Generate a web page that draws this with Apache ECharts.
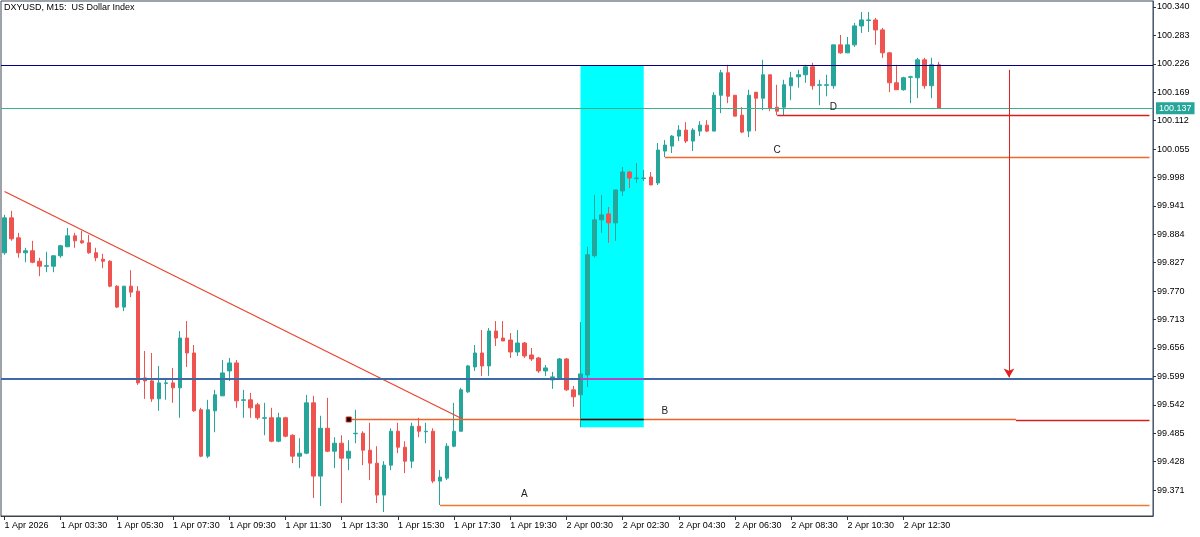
<!DOCTYPE html>
<html><head><meta charset="utf-8">
<script src="https://cdn.jsdelivr.net/npm/echarts@6/dist/echarts.min.js"></script>
<style>html,body{margin:0;padding:0;background:#fff}#chart{width:1200px;height:537px}</style>
</head><body><div id="chart"></div>
<script>
// ---- data (DXYUSD M15) ----
const tickLabels = ["1 Apr 2026","1 Apr 03:30","1 Apr 05:30","1 Apr 07:30","1 Apr 09:30","1 Apr 11:30","1 Apr 13:30","1 Apr 15:30","1 Apr 17:30","1 Apr 19:30","2 Apr 00:30","2 Apr 02:30","2 Apr 04:30","2 Apr 06:30","2 Apr 08:30","2 Apr 10:30","2 Apr 12:30"];
const yTicks = [99.371,99.428,99.485,99.542,99.599,99.656,99.713,99.770,99.827,99.884,99.941,99.998,100.055,100.112,100.169,100.226,100.283,100.340];

const opens = [99.847,99.917,99.877,99.847,99.851,99.830,99.820,99.820,99.841,99.859,99.881,99.871,99.867,99.847,99.834,99.830,99.780,99.738,99.780,99.770,
99.596,99.590,99.554,99.585,99.586,99.576,99.676,99.646,99.532,99.439,99.530,99.560,99.610,99.626,99.551,99.552,99.542,99.515,99.516,99.469,
99.516,99.481,99.439,99.445,99.546,99.399,99.495,99.449,99.465,99.435,99.484,99.485,99.451,99.425,99.361,99.421,99.489,99.457,99.429,99.499,
99.488,99.489,99.389,99.395,99.459,99.489,99.568,99.618,99.646,99.620,99.690,99.676,99.672,99.648,99.666,99.642,99.636,99.610,99.592,99.596,
99.634,99.572,99.562,99.602,99.841,99.913,99.925,99.907,99.971,100.009,99.996,99.996,99.999,99.987,100.051,100.061,100.081,100.093,100.071,100.091,
100.103,100.091,100.163,100.208,100.163,100.123,100.091,100.169,100.157,100.204,100.139,100.139,100.182,100.200,100.204,100.220,100.183,100.183,100.182,100.264,
100.248,100.264,100.302,100.313,100.314,100.294,100.248,100.188,100.174,100.199,100.198,100.234,100.182,100.224];
const closes = [99.917,99.875,99.847,99.851,99.828,99.820,99.821,99.841,99.861,99.881,99.871,99.867,99.847,99.837,99.830,99.780,99.738,99.780,99.768,99.586,
99.590,99.554,99.586,99.586,99.576,99.676,99.646,99.530,99.439,99.532,99.562,99.606,99.626,99.550,99.552,99.536,99.516,99.516,99.469,99.516,
99.479,99.439,99.445,99.546,99.399,99.495,99.449,99.465,99.435,99.449,99.485,99.451,99.425,99.361,99.421,99.489,99.457,99.429,99.499,99.489,
99.489,99.389,99.397,99.459,99.489,99.572,99.620,99.646,99.620,99.690,99.676,99.670,99.648,99.666,99.640,99.634,99.610,99.616,99.598,99.634,
99.572,99.558,99.604,99.843,99.913,99.923,99.907,99.973,100.009,99.997,99.997,99.997,99.983,100.053,100.063,100.081,100.093,100.071,100.093,100.103,
100.091,100.163,100.208,100.161,100.121,100.089,100.163,100.157,100.204,100.137,100.131,100.184,100.198,100.204,100.220,100.182,100.184,100.184,100.264,100.248,
100.264,100.302,100.314,100.314,100.294,100.248,100.188,100.174,100.198,100.200,100.234,100.182,100.224,100.137];
const lows = [99.843,99.871,99.837,99.828,99.826,99.800,99.808,99.808,99.837,99.859,99.857,99.865,99.845,99.830,99.816,99.778,99.736,99.730,99.758,99.582,
99.554,99.548,99.530,99.552,99.546,99.516,99.618,99.528,99.437,99.435,99.487,99.560,99.590,99.536,99.516,99.516,99.512,99.481,99.467,99.467,
99.477,99.425,99.415,99.443,99.355,99.339,99.447,99.415,99.345,99.411,99.465,99.421,99.391,99.345,99.327,99.411,99.445,99.405,99.415,99.477,
99.465,99.385,99.341,99.391,99.457,99.489,99.566,99.610,99.600,99.600,99.660,99.670,99.636,99.640,99.636,99.630,99.606,99.600,99.574,99.592,
99.570,99.538,99.497,99.578,99.837,99.887,99.867,99.871,99.961,99.977,99.987,99.991,99.983,99.983,100.039,100.047,100.071,100.067,100.051,100.081,
100.089,100.091,100.127,100.147,100.121,100.087,100.079,100.091,100.133,100.131,100.123,100.123,100.153,100.178,100.188,100.174,100.143,100.161,100.176,100.246,
100.248,100.260,100.288,100.290,100.264,100.238,100.169,100.174,100.172,100.147,100.157,100.176,100.157,100.137];
const highs = [99.923,99.931,99.887,99.857,99.871,99.837,99.849,99.841,99.863,99.897,99.887,99.891,99.883,99.857,99.845,99.832,99.782,99.780,99.812,99.780,
99.650,99.646,99.620,99.596,99.616,99.690,99.710,99.662,99.536,99.552,99.572,99.632,99.636,99.632,99.572,99.566,99.546,99.546,99.536,99.526,
99.518,99.483,99.475,99.562,99.560,99.520,99.556,99.477,99.481,99.471,99.532,99.489,99.506,99.459,99.429,99.495,99.506,99.469,99.506,99.516,
99.506,99.495,99.411,99.465,99.546,99.576,99.622,99.662,99.692,99.696,99.710,99.710,99.686,99.692,99.668,99.656,99.638,99.622,99.608,99.636,
99.636,99.580,99.708,99.859,99.963,99.963,99.939,99.973,100.019,100.011,100.027,100.013,100.009,100.067,100.073,100.083,100.103,100.109,100.097,100.111,
100.113,100.169,100.214,100.224,100.163,100.139,100.174,100.169,100.234,100.204,100.184,100.194,100.210,100.214,100.224,100.228,100.194,100.204,100.264,100.284,
100.280,100.308,100.330,100.330,100.318,100.298,100.250,100.224,100.200,100.202,100.238,100.238,100.238,100.230];

// drawn objects (bar index / price)
const resistanceLevel = 100.2226;
const lastPrice = 100.137;
const supportLevel = 99.5938;
const levelA = { from: 62, value: 99.3401 };
const levelB = { from: 49, split: 144, value: 99.5126, value2: 99.5106 };
const levelC = { from: 94, value: 100.0381 };
const levelD = { from: 110, value: 100.1223 };
const trendLine = [[0, 99.970], [65, 99.515]];
const zone = [[82, 100.222], [91, 99.497]];
const arrow = [[143, 100.214], [143, 99.597]];
const textMarks = [["A", 74, 99.363], ["B", 94, 99.530], ["C", 110, 100.053], ["D", 118, 100.139]];
const blankSlots = 30;

// ---- time categories: 1 Apr from 01:30, 2 Apr from 00:30 (15-minute bars) ----
const day1Bars = 80;
function hhmm(min){const h=Math.floor(min/60),m=min%60;return (h<10?'0':'')+h+':'+(m<10?'0':'')+m;}
const categories = opens.map((_, i) => i < day1Bars ? '1 Apr ' + hhmm(90 + 15 * i) : '2 Apr ' + hhmm(30 + 15 * (i - day1Bars)));
const axisCats = categories.concat(Array.from({length: blankSlots}, () => ''));
const lastSlot = axisCats.length - 1;

const candles = opens.map((o, i) => [o, closes[i], lows[i], highs[i]]);

function segment(p0, p1, color, width, z) {
  return { type: 'line', data: [p0, p1], symbol: 'none', showSymbol: false, silent: true, z: z || 4,
    lineStyle: { color: color, width: width, type: 'solid', opacity: 1 }, itemStyle: { color: color },
    emphasis: { disabled: true }, tooltip: { show: false } };
}

const FONT = 'Liberation Sans';
const chart = echarts.init(document.getElementById('chart'), null, {renderer: 'canvas'});
chart.setOption({
  animation: false,
  backgroundColor: '#ffffff',
  textStyle: { fontFamily: FONT },
  title: { text: 'DXYUSD, M15:  US Dollar Index', left: 4, top: 3, padding: 0,
    textStyle: { fontSize: 9, fontWeight: 'normal', color: '#000', fontFamily: FONT } },
  grid: { left: 1, right: 47, top: 1, bottom: 21, show: true, borderColor: '#3c4452', borderWidth: 1,
    backgroundColor: '#fff', outerBoundsMode: 'none' },
  xAxis: {
    type: 'category', data: axisCats, boundaryGap: true,
    axisLine: { show: true, lineStyle: { color: '#3c4452', width: 1 } },
    axisTick: { show: true, alignWithLabel: true, length: 4,
      interval: (idx, val) => idx % 8 === 0 && val !== '', lineStyle: { color: '#333' } },
    axisLabel: { interval: 0, align: 'left', margin: 5, color: '#000', fontSize: 9, fontFamily: FONT,
      formatter: (v, idx) => (idx % 8 === 0 && tickLabels[idx / 8]) ? tickLabels[idx / 8] : '' },
    splitLine: { show: false }
  },
  yAxis: {
    type: 'value', position: 'right', min: 99.319, max: 100.352, scale: true,
    axisLine: { show: true, lineStyle: { color: '#4a5a78', width: 1 } },
    axisTick: { show: true, inside: false, length: 3, customValues: yTicks, lineStyle: { color: '#333' } },
    axisLabel: { show: true, customValues: yTicks, margin: 4, color: '#000', fontSize: 9, fontFamily: FONT,
      formatter: v => v.toFixed(3) },
    splitLine: { show: false }
  },
  series: [{
    type: 'candlestick',
    data: candles,
    barWidth: 4,
    z: 2,
    itemStyle: { color: '#26a69a', color0: '#ef5350', borderColor: '#26a69a', borderColor0: '#ef5350', borderWidth: 1 },
    markArea: {
      silent: true,
      itemStyle: { color: '#00ffff', opacity: 1 },
      data: [[{ coord: zone[0] }, { coord: zone[1] }]]
    },
    markPoint: {
      silent: true,
      data: [
        { coord: [levelB.from, levelB.value], symbol: 'rect', symbolSize: 5,
          itemStyle: { color: '#000', borderColor: '#e03020', borderWidth: 1 }, label: { show: false } }
      ].concat(textMarks.map(t => ({
        coord: [t[1], t[2]], symbol: 'circle', symbolSize: 1, itemStyle: { color: 'rgba(0,0,0,0)' },
        label: { show: true, position: 'inside', formatter: t[0], color: '#222', fontSize: 10, fontFamily: FONT }
      })))
    },
    markLine: {
      silent: true, symbol: ['none', 'none'], precision: 4,
      label: { show: false },
      data: [
        { yAxis: resistanceLevel, lineStyle: { color: '#00008b', width: 1, type: 'solid' } },
        { yAxis: supportLevel, lineStyle: { color: '#3f6aa8', width: 2, type: 'solid' } },
        { yAxis: lastPrice, lineStyle: { color: '#3cb08a', width: 1, type: 'solid' },
          label: { show: true, position: 'end', distance: 3, formatter: lastPrice.toFixed(3), color: '#fff',
            backgroundColor: '#26a69a', padding: [2, 3, 1, 3], fontSize: 9, fontFamily: FONT } },
        [{ coord: arrow[0], lineStyle: { color: '#e02020', width: 1, type: 'solid' } },
         { coord: arrow[1], symbol: 'arrow', symbolSize: [8, 9] }]
      ]
    }
  },
  segment([levelD.from, levelD.value], [lastSlot, levelD.value], '#dd1c1c', 1.4),
  segment([levelC.from, levelC.value], [lastSlot, levelC.value], '#ee6a2c', 1.4),
  segment([levelB.from, levelB.value], [levelB.split, levelB.value], '#e8642a', 1.4),
  segment([levelB.split, levelB.value2], [lastSlot, levelB.value2], '#dd1c1c', 1.4),
  segment([levelA.from, levelA.value], [lastSlot, levelA.value], '#ee7a30', 1.4),
  segment(trendLine[0], trendLine[1], '#e8452a', 1.2),
  // where lines cross the highlighted zone they show inverted colours
  segment([zone[0][0], levelB.value], [zone[1][0], levelB.value], '#111111', 1.4, 5),
  segment([zone[0][0], supportLevel], [zone[1][0], supportLevel], '#c040c0', 2, 5)
  ]
});
</script>
</body></html>
